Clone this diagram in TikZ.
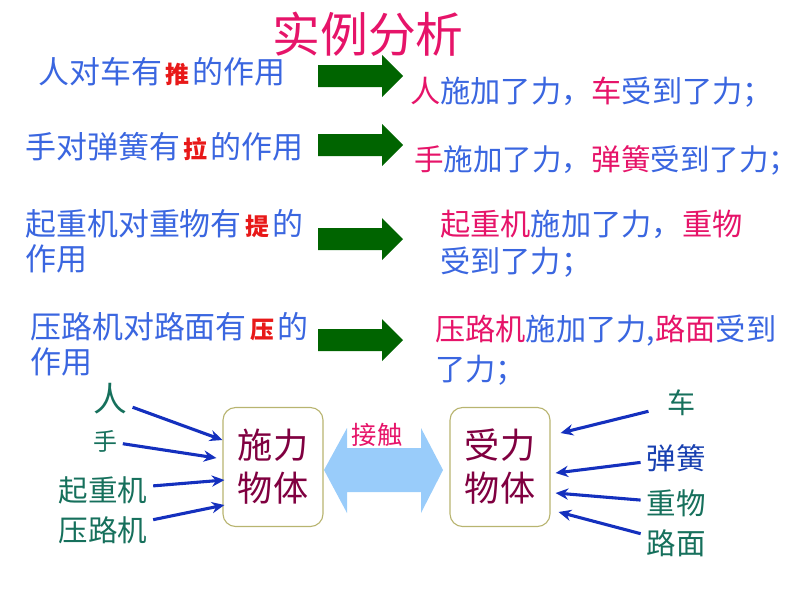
\documentclass[tikz,border=0pt]{standalone}
\usepackage{fontspec}
\setmainfont{Noto Sans CJK SC}
\usetikzlibrary{arrows.meta,calc}

\definecolor{txtblue}{RGB}{58,102,224}
\definecolor{hotpink}{RGB}{230,20,105}
\definecolor{pushred}{RGB}{232,25,25}
\definecolor{darkgreen}{RGB}{0,100,0}
\definecolor{tealtxt}{RGB}{22,112,92}
\definecolor{arrowblue}{RGB}{20,48,190}
\definecolor{springblue}{RGB}{24,64,176}
\definecolor{boxedge}{RGB}{184,180,112}
\definecolor{boxtxt}{RGB}{128,0,64}
\definecolor{contactblue}{RGB}{153,204,250}

\newcommand{\pk}[1]{\textcolor{hotpink}{#1}}
\newcommand{\actword}[1]{\makebox[22pt]{\fontsize{17}{17}\selectfont\bfseries\textcolor{pushred}{#1}}}

\tikzset{
  sentence/.style={anchor=west, inner sep=0pt, align=left, text=txtblue,
    font=\fontsize{21.5}{25}\selectfont},
  cause/.style={sentence, font=\fontsize{22}{25}\selectfont},
  heading/.style={text=hotpink, font=\fontsize{34}{34}\selectfont},
  body/.style={draw=boxedge, line width=0.8pt, rounded corners=9pt,
    minimum width=2.5cm, minimum height=2.975cm, align=center,
    text=boxtxt, font=\fontsize{25}{30.5}\selectfont},
  thing/.style={text=tealtxt, inner sep=2pt, font=\fontsize{21}{21}\selectfont},
  push/.style={draw=arrowblue, line width=2.2pt, shorten <=2pt,
    -{Stealth[length=9pt,width=8pt]}}
}

\begin{document}
\begin{tikzpicture}[x=0.025cm,y=-0.025cm]
\useasboundingbox (0,0) rectangle (800,600);

\node[heading] (title) at (368,34) {实例分析};

\node[cause] (l1) at (38,72) {人对车有\actword{推}的作用};
\node[sentence] (r1) at (410,92) {\pk{人}施加了力，\pk{车}受到了力；};
\node[cause] (l2) at (25,147) {手对弹簧有\actword{拉}的作用};
\node[sentence, font=\fontsize{21}{25}\selectfont] (r2) at (414,160) {\pk{手}施加了力，\pk{弹簧}受到了力；};
\node[cause] (l3) at (25,241) {起重机对重物有\actword{提}的\\作用};
\node[sentence, font=\fontsize{21.5}{26.5}\selectfont] (r3) at (440,244) {\pk{起重机}施加了力，\pk{重物}\\受到了力；};
\node[cause] (l4) at (30,344) {压路机对路面有\actword{压}的\\作用};
\node[sentence, font=\fontsize{21.5}{28}\selectfont] (r4) at (435,350) {\pk{压路机}施加了力,\pk{路面}受到\\了力；};

\foreach \y in {76,145,239,340}
  \fill[darkgreen] (318,{\y-11}) -- (382,{\y-11}) -- (382,{\y-21}) -- (403,\y)
    -- (382,{\y+21}) -- (382,{\y+11}) -- (318,{\y+11}) -- cycle;

\node[body] (shili) at (273,467) {施力\\物体};
\node[body] (shouli) at (500,467) {受力\\物体};

\fill[contactblue] (324,470) -- (347,428) -- (347,448) -- (421,448) -- (421,428)
  -- (443,470) -- (421,513) -- (421,492) -- (347,492) -- (347,513) -- cycle;
\node[text=hotpink, font=\fontsize{18}{18}\selectfont] (contact) at (377,435) {接触};

\node[thing, font=\fontsize{24}{24}\selectfont] (ren) at (110,399) {人};
\node[thing, font=\fontsize{17}{17}\selectfont] (shou) at (105,441) {手};
\node[thing] (crane) at (103,490) {起重机};
\node[thing] (roller) at (103,530) {压路机};

\node[thing, font=\fontsize{20}{20}\selectfont] (che) at (682,403) {车};
\node[thing, text=springblue] (spring) at (676,458) {弹簧};
\node[thing] (weight) at (676,503) {重物};
\node[thing] (road) at (676,543) {路面};

\draw[push] (ren) -- ($(shili.west)+(0,-27)$);
\draw[push] (shou) -- ($(shili.west)+(-6,-9)$);
\draw[push] (crane) -- ($(shili.west)+(2,13)$);
\draw[push] (roller) -- ($(shili.west)+(2,38)$);

\draw[push, shorten <=12pt] (che) -- ($(shouli.east)+(10,-34)$);
\draw[push] (spring) -- ($(shouli.east)+(5,6)$);
\draw[push] (weight) -- ($(shouli.east)+(5,26)$);
\draw[push] (road) -- ($(shouli.east)+(8,45)$);
\end{tikzpicture}
\end{document}
